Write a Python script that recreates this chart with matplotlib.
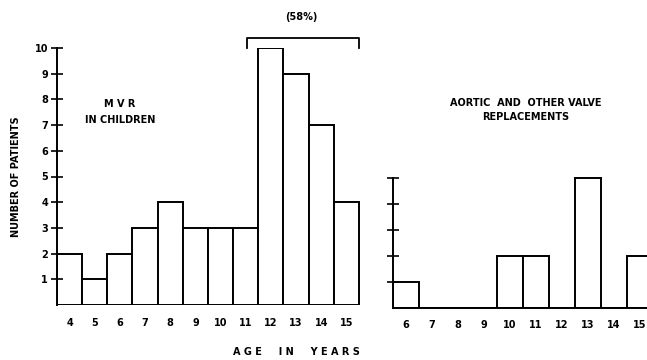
import matplotlib
matplotlib.use("Agg")
import matplotlib.pyplot as plt

# ages and patient counts
mvr_ages = [4, 5, 6, 7, 8, 9, 10, 11, 12, 13, 14, 15]
mvr_counts = [2, 1, 2, 3, 4, 3, 3, 3, 10, 9, 7, 4]

aortic_ages = [6, 7, 8, 9, 10, 11, 12, 13, 14, 15]
aortic_counts = [1, 0, 0, 0, 2, 2, 0, 5, 0, 2]

W, H = 647, 360
font = dict(fontsize=7, fontweight="bold", family="DejaVu Sans")

fig = plt.figure(figsize=(W / 100, H / 100), dpi=100)
fig.patch.set_facecolor("white")

# left panel: MVR in children
ax1 = fig.add_axes([57 / W, (H - 305) / H, 304 / W, 257 / H])
ax1.bar(mvr_ages, mvr_counts, width=1.0, color="white", edgecolor="black", linewidth=1.4)
ax1.set_xlim(3.5, 15.58)
ax1.set_ylim(0, 10)
for s in ["top", "right", "bottom"]:
    ax1.spines[s].set_visible(False)
ax1.spines["left"].set_linewidth(1.4)
ax1.set_yticks(range(1, 11))
ax1.set_yticklabels([str(i) for i in range(1, 11)], **font)
ax1.tick_params(axis="y", direction="inout", length=9, width=1.2, pad=2)
ax1.set_xticks(mvr_ages)
ax1.set_xticklabels([str(a) for a in mvr_ages], **font)
ax1.tick_params(axis="x", length=0, pad=9)
ax1.set_ylabel("NUMBER OF PATIENTS", labelpad=10, **font)
ax1.text(6.0, 7.5, "M V R\nIN CHILDREN", ha="center", va="center", linespacing=1.7, **font)

# bracket over ages 11-15
ax1.plot([11.05, 11.05, 15.5, 15.5], [10.0, 10.4, 10.4, 10.0], color="black", lw=1.3, clip_on=False)
ax1.text(13.2, 11.2, "(58%)", ha="center", va="center", **font)

# right panel: aortic and other valve replacements
ax2 = fig.add_axes([393 / W, (H - 308) / H, 260 / W, 260 / H])
ax2.bar(aortic_ages, aortic_counts, width=1.0, color="white", edgecolor="black", linewidth=1.4)
ax2.axhline(0, color="black", lw=1.4, clip_on=False)
ax2.set_xlim(5.5, 15.5)
ax2.set_ylim(0, 10)
for s in ["top", "right", "bottom"]:
    ax2.spines[s].set_visible(False)
ax2.spines["left"].set_bounds(0, 5)
ax2.spines["left"].set_linewidth(1.4)
ax2.set_yticks(range(1, 6))
ax2.set_yticklabels([])
ax2.tick_params(axis="y", direction="inout", length=9, width=1.2)
ax2.set_xticks(aortic_ages)
ax2.set_xticklabels([str(a) for a in aortic_ages], **font)
ax2.tick_params(axis="x", length=0, pad=9)
ax2.text(10.6, 7.6, "AORTIC  AND  OTHER VALVE\nREPLACEMENTS", ha="center", va="center", linespacing=1.5, **font)

fig.text(296 / W, 1 - 352 / H, "A G E     I N     Y E A R S", ha="center", va="center", **font)

fig.savefig("out.png", dpi=100)
